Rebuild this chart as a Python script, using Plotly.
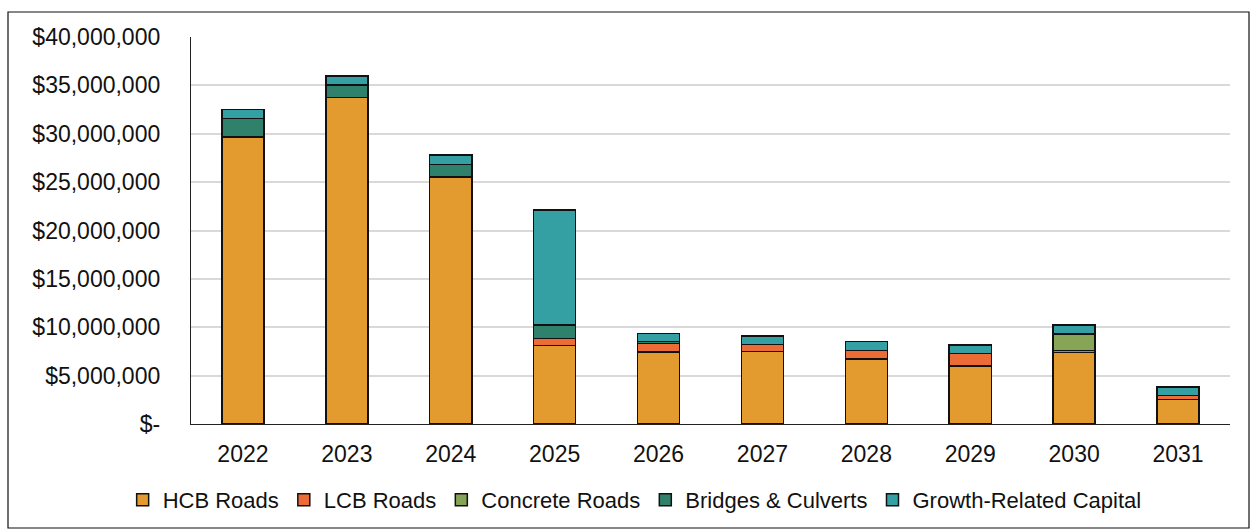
import plotly.graph_objects as go

# Capital programme by year and asset category (dollars)
years = ["2022", "2023", "2024", "2025", "2026", "2027", "2028", "2029", "2030", "2031"]

hcb_roads = [29600000, 33750000, 25550000, 8100000, 7450000, 7480000, 6730000, 6000000, 7400000, 2550000]
lcb_roads = [120000, 0, 0, 760000, 860000, 720000, 880000, 1270000, 180000, 380000]
concrete_roads = [0, 0, 0, 0, 0, 0, 0, 0, 1720000, 0]
bridges_culverts = [1850000, 1280000, 1280000, 1370000, 200000, 0, 0, 0, 0, 0]
growth_capital = [950000, 930000, 960000, 11890000, 860000, 900000, 900000, 900000, 930000, 890000]

series_names = ["HCB Roads", "LCB Roads", "Concrete Roads", "Bridges & Culverts", "Growth-Related Capital"]
series_colors = ["#E39A2F", "#EB6C36", "#86A557", "#2F816C", "#35A0A4"]

y_tick_values = [0, 5000000, 10000000, 15000000, 20000000, 25000000, 30000000, 35000000, 40000000]
y_tick_labels = ["$-", "$5,000,000", "$10,000,000", "$15,000,000", "$20,000,000",
                 "$25,000,000", "$30,000,000", "$35,000,000", "$40,000,000"]

font_family = "Liberation Sans, Arial, sans-serif"

fig = go.Figure()
for name, values, color in zip(series_names,
                               [hcb_roads, lcb_roads, concrete_roads, bridges_culverts, growth_capital],
                               series_colors):
    fig.add_trace(go.Bar(
        x=years,
        y=[v if v else None for v in values],
        name=name,
        marker=dict(color=color, line=dict(color="#111111", width=1.5)),
    ))

fig.update_layout(
    barmode="stack",
    bargap=0.595,
    width=1250,
    height=529,
    margin=dict(l=191, r=20, t=37, b=105, autoexpand=False),
    paper_bgcolor="white",
    plot_bgcolor="white",
    font=dict(family=font_family, size=23, color="#111111"),
    showlegend=True,
    legend=dict(
        orientation="h",
        x=0.427, xanchor="center",
        y=-0.196, yanchor="middle",
        font=dict(size=22),
        itemwidth=30,
        traceorder="normal",
    ),
    xaxis=dict(
        automargin=False,
        showline=True, linecolor="#222222", linewidth=1.3,
        ticks="outside", ticklen=9, tickcolor="rgba(0,0,0,0)",
        tickfont=dict(size=23),
        showgrid=False,
    ),
    yaxis=dict(
        automargin=False,
        range=[0, 40000000],
        tickvals=y_tick_values,
        ticktext=y_tick_labels,
        showline=True, linecolor="#222222", linewidth=1.3,
        showgrid=True, gridcolor="#D9D9D9", gridwidth=1.5,
        ticks="outside", ticklen=25, tickcolor="rgba(0,0,0,0)",
        tickfont=dict(size=23),
        zeroline=False,
    ),
    shapes=[dict(
        type="rect", xref="paper", yref="paper",
        x0=(8 - 191) / 1039, x1=(1249 - 191) / 1039,
        y0=(424 - 528) / 387, y1=1 + (37 - 12) / 387,
        line=dict(color="#111111", width=1.2),
        fillcolor="rgba(0,0,0,0)",
        layer="below",
    )],
)

fig.write_html("out.html")
